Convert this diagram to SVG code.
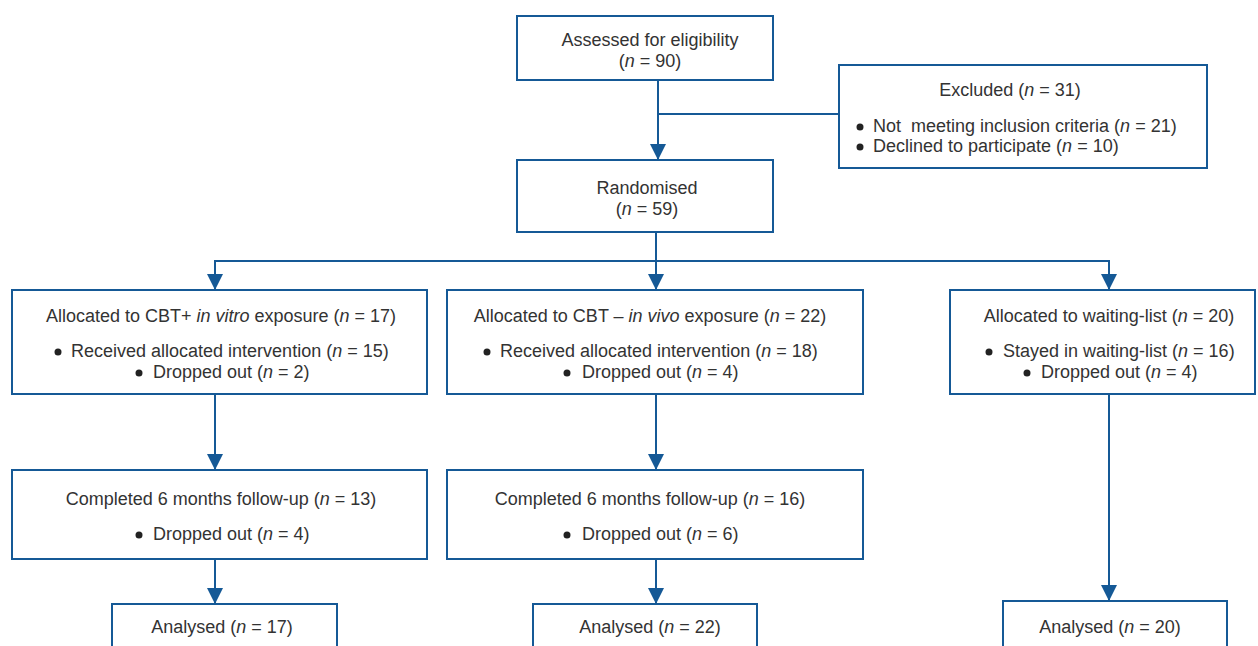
<svg xmlns="http://www.w3.org/2000/svg" width="1258" height="646" viewBox="0 0 1258 646">
<defs>
<style>
.box{fill:#fff;stroke:#155996;stroke-width:2}
.ln{fill:none;stroke:#155996;stroke-width:2}
text{font-family:"Liberation Sans",Arial,sans-serif;font-size:18px;fill:#333}
.c{text-anchor:middle}
.i{font-style:italic}
.b{fill:#222}
</style>
<marker id="ah" markerUnits="userSpaceOnUse" markerWidth="16" markerHeight="16" viewBox="0 0 16 16" refX="16" refY="8" orient="auto">
<path d="M0,0 L16,8 L0,16 Z" fill="#155996"/>
</marker>
</defs>
<rect width="1258" height="646" fill="#fff"/>
<g id="connectors">
<line class="ln" x1="658" y1="80" x2="658" y2="160" marker-end="url(#ah)"/>
<line class="ln" x1="658" y1="114" x2="839" y2="114"/>
<line class="ln" x1="656" y1="232" x2="656" y2="261"/>
<line class="ln" x1="214" y1="261" x2="1110" y2="261"/>
<polyline class="ln" points="215,260 215,290" marker-end="url(#ah)"/>
<line class="ln" x1="656" y1="261" x2="656" y2="290" marker-end="url(#ah)"/>
<polyline class="ln" points="1109,260 1109,290" marker-end="url(#ah)"/>
<line class="ln" x1="215" y1="394" x2="215" y2="470" marker-end="url(#ah)"/>
<line class="ln" x1="656" y1="394" x2="656" y2="470" marker-end="url(#ah)"/>
<line class="ln" x1="215" y1="559" x2="215" y2="604" marker-end="url(#ah)"/>
<line class="ln" x1="656" y1="559" x2="656" y2="604" marker-end="url(#ah)"/>
<line class="ln" x1="1109" y1="394" x2="1109" y2="601" marker-end="url(#ah)"/>
</g>
<g id="assessed">
<rect class="box" x="517" y="16" width="256" height="64"/>
<text class="c" x="650" y="46">Assessed for eligibility</text>
<text class="c" x="650" y="67">(<tspan class="i">n</tspan> = 90)</text>
</g>
<g id="excluded">
<rect class="box" x="839" y="65" width="368" height="103"/>
<text class="c" x="1010" y="96">Excluded (<tspan class="i">n</tspan> = 31)</text>
<circle class="b" cx="860" cy="127" r="3.5"/>
<text x="873" y="132">Not&#160; meeting inclusion criteria (<tspan class="i">n</tspan> = 21)</text>
<circle class="b" cx="860" cy="147" r="3.5"/>
<text x="873" y="152">Declined to participate (<tspan class="i">n</tspan> = 10)</text>
</g>
<g id="randomised">
<rect class="box" x="517" y="160" width="256" height="72"/>
<text class="c" x="647" y="194">Randomised</text>
<text class="c" x="647" y="215">(<tspan class="i">n</tspan> = 59)</text>
</g>
<g id="alloc-vitro">
<rect class="box" x="12" y="290" width="415" height="104"/>
<text class="c" x="221" y="322">Allocated to CBT+ <tspan class="i">in vitro</tspan> exposure (<tspan class="i">n</tspan> = 17)</text>
<circle class="b" cx="58" cy="352" r="3.5"/>
<text x="71" y="357">Received allocated intervention (<tspan class="i">n</tspan> = 15)</text>
<circle class="b" cx="139" cy="373" r="3.5"/>
<text x="153" y="378">Dropped out (<tspan class="i">n</tspan> = 2)</text>
</g>
<g id="alloc-vivo">
<rect class="box" x="447" y="290" width="416" height="104"/>
<text class="c" x="650" y="322">Allocated to CBT – <tspan class="i">in vivo</tspan> exposure (<tspan class="i">n</tspan> = 22)</text>
<circle class="b" cx="487" cy="352" r="3.5"/>
<text x="500" y="357">Received allocated intervention (<tspan class="i">n</tspan> = 18)</text>
<circle class="b" cx="567" cy="373" r="3.5"/>
<text x="582" y="378">Dropped out (<tspan class="i">n</tspan> = 4)</text>
</g>
<g id="alloc-wait">
<rect class="box" x="950" y="290" width="305" height="104"/>
<text class="c" x="1109" y="322">Allocated to waiting-list (<tspan class="i">n</tspan> = 20)</text>
<circle class="b" cx="989" cy="352" r="3.5"/>
<text x="1003" y="357">Stayed in waiting-list (<tspan class="i">n</tspan> = 16)</text>
<circle class="b" cx="1027" cy="373" r="3.5"/>
<text x="1041" y="378">Dropped out (<tspan class="i">n</tspan> = 4)</text>
</g>
<g id="followup-vitro">
<rect class="box" x="12" y="470" width="415" height="89"/>
<text class="c" x="221" y="505">Completed 6 months follow-up (<tspan class="i">n</tspan> = 13)</text>
<circle class="b" cx="139" cy="535" r="3.5"/>
<text x="153" y="540">Dropped out (<tspan class="i">n</tspan> = 4)</text>
</g>
<g id="followup-vivo">
<rect class="box" x="447" y="470" width="416" height="89"/>
<text class="c" x="650" y="505">Completed 6 months follow-up (<tspan class="i">n</tspan> = 16)</text>
<circle class="b" cx="567" cy="535" r="3.5"/>
<text x="582" y="540">Dropped out (<tspan class="i">n</tspan> = 6)</text>
</g>
<g id="analysed-vitro">
<rect class="box" x="112" y="604" width="225" height="60"/>
<text class="c" x="222" y="633">Analysed (<tspan class="i">n</tspan> = 17)</text>
</g>
<g id="analysed-vivo">
<rect class="box" x="533" y="604" width="224" height="60"/>
<text class="c" x="650" y="633">Analysed (<tspan class="i">n</tspan> = 22)</text>
</g>
<g id="analysed-wait">
<rect class="box" x="1003" y="601" width="224" height="60"/>
<text class="c" x="1110" y="633">Analysed (<tspan class="i">n</tspan> = 20)</text>
</g>
</svg>
